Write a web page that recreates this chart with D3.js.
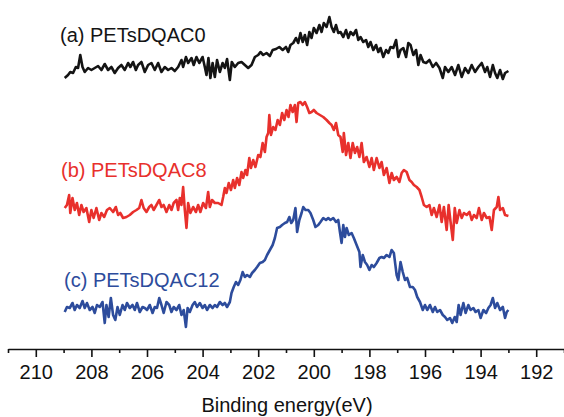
<!DOCTYPE html>
<html><head><meta charset="utf-8">
<script src="https://cdn.jsdelivr.net/npm/d3@7"></script>
<style>body{margin:0;background:#fff}svg{display:block}</style>
</head><body><svg id="c" width="564" height="417"></svg>
<script>
const seriesNames = ["(a) PETsDQAC0", "(b) PETsDQAC8", "(c) PETsDQAC12"];
const xTicks = [210, 208, 206, 204, 202, 200, 198, 196, 194, 192];
const xLabel = "Binding energy(eV)";

const energyA = [208.96,208.84,208.76,208.66,208.56,208.48,208.40,208.32,208.24,208.12,208.00,207.88,207.76,207.64,207.52,207.40,207.28,207.16,207.04,206.92,206.80,206.68,206.60,206.50,206.40,206.32,206.20,206.08,205.96,205.84,205.72,205.60,205.48,205.36,205.24,205.12,205.00,204.88,204.76,204.70,204.60,204.52,204.40,204.32,204.22,204.12,204.00,203.92,203.86,203.79,203.72,203.64,203.56,203.48,203.38,203.28,203.20,203.12,203.02,202.95,202.84,202.72,202.60,202.48,202.36,202.24,202.12,202.00,201.92,201.82,201.70,201.58,201.48,201.36,201.24,201.12,201.00,200.92,200.84,200.74,200.64,200.56,200.48,200.40,200.32,200.24,200.16,200.08,200.00,199.90,199.80,199.72,199.64,199.54,199.44,199.36,199.28,199.20,199.12,199.04,198.94,198.84,198.76,198.68,198.58,198.48,198.40,198.32,198.22,198.12,198.04,197.96,197.86,197.76,197.68,197.60,197.50,197.40,197.32,197.24,197.14,197.04,196.96,196.88,196.78,196.68,196.60,196.52,196.42,196.32,196.24,196.16,196.06,195.96,195.84,195.72,195.60,195.48,195.36,195.28,195.16,195.04,194.92,194.80,194.68,194.56,194.44,194.32,194.20,194.08,193.96,193.84,193.76,193.66,193.56,193.48,193.40,193.30,193.20,193.12,193.00];
const intensityA = [267,270,273,272,278,277,290,278,273,277,275,277,279,275,281,275,278,272,277,280,275,282,278,283,275,280,283,273,280,282,275,282,273,278,275,277,274,278,285,278,288,282,287,280,288,282,288,278,270,287,267,282,268,285,273,282,277,286,265,283,278,282,283,280,277,280,288,290,293,290,292,289,295,296,298,295,298,293,300,302,307,302,312,303,310,300,313,307,317,312,320,313,322,318,328,318,313,320,312,313,308,315,307,313,310,315,305,308,303,305,298,303,295,300,293,297,288,295,292,298,297,305,288,295,297,288,302,300,290,295,280,290,283,282,285,278,282,277,267,278,273,278,270,280,268,277,272,280,273,278,282,273,278,268,280,272,267,275,266,272,274];

const energyB = [208.96,208.88,208.80,208.76,208.68,208.60,208.52,208.44,208.36,208.28,208.18,208.08,208.00,207.92,207.82,207.72,207.64,207.54,207.44,207.34,207.22,207.12,207.04,206.96,206.86,206.74,206.62,206.50,206.38,206.28,206.20,206.12,206.02,205.92,205.84,205.76,205.66,205.56,205.48,205.40,205.30,205.20,205.12,205.04,204.94,204.88,204.82,204.76,204.70,204.64,204.58,204.52,204.44,204.34,204.24,204.16,204.08,203.98,203.88,203.80,203.74,203.66,203.56,203.44,203.32,203.26,203.20,203.14,203.06,202.98,202.90,202.84,202.76,202.68,202.60,202.54,202.46,202.40,202.32,202.26,202.18,202.10,202.00,201.92,201.84,201.76,201.70,201.64,201.60,201.54,201.46,201.38,201.30,201.22,201.14,201.06,200.98,200.91,200.84,200.76,200.68,200.62,200.56,200.48,200.40,200.32,200.24,200.16,200.08,200.00,199.90,199.78,199.66,199.54,199.44,199.36,199.28,199.20,199.12,199.04,198.96,198.92,198.84,198.76,198.68,198.60,198.52,198.44,198.36,198.28,198.20,198.10,198.00,197.92,197.84,197.74,197.64,197.56,197.48,197.38,197.28,197.20,197.12,197.02,196.92,196.84,196.76,196.66,196.56,196.48,196.40,196.30,196.20,196.12,196.04,195.94,195.84,195.76,195.68,195.58,195.48,195.40,195.32,195.22,195.15,195.08,195.00,194.93,194.86,194.76,194.68,194.60,194.50,194.40,194.32,194.24,194.14,194.06,193.96,193.88,193.78,193.68,193.60,193.52,193.42,193.36,193.30,193.20,193.12,193.00];
const intensityB = [137,140,150,132,147,135,142,130,140,133,137,123,135,127,137,125,132,128,135,137,133,138,130,132,127,128,130,133,135,137,145,137,133,138,140,135,140,145,138,140,133,140,135,142,145,135,147,140,158,135,117,142,132,138,133,140,133,142,137,153,138,145,142,142,140,148,157,152,162,155,165,157,167,160,173,167,175,170,187,177,185,178,190,188,202,193,208,212,230,210,218,215,225,220,232,225,235,228,240,233,240,223,242,243,240,243,238,232,233,235,232,230,228,225,222,220,215,222,210,208,193,212,190,202,187,202,192,198,188,202,183,188,178,187,175,187,177,183,170,177,162,172,165,168,163,172,175,173,165,163,160,158,155,148,140,138,140,130,137,128,140,123,138,115,140,123,105,137,122,135,127,132,130,133,125,130,127,137,125,132,127,128,115,135,138,148,135,137,130,129];

const energyC = [208.96,208.88,208.78,208.68,208.60,208.52,208.42,208.32,208.24,208.16,208.06,207.96,207.88,207.80,207.70,207.60,207.52,207.46,207.38,207.30,207.22,207.14,207.06,206.98,206.88,206.80,206.72,206.62,206.52,206.44,206.36,206.26,206.16,206.08,206.00,205.90,205.80,205.72,205.64,205.56,205.48,205.40,205.30,205.20,205.12,205.04,204.94,204.84,204.76,204.68,204.60,204.54,204.46,204.36,204.28,204.20,204.10,204.00,203.92,203.84,203.74,203.64,203.56,203.48,203.38,203.28,203.20,203.12,203.02,202.96,202.88,202.80,202.72,202.64,202.56,202.48,202.40,202.30,202.22,202.12,202.04,201.94,201.84,201.76,201.68,201.58,201.48,201.40,201.32,201.22,201.14,201.04,200.96,200.88,200.81,200.74,200.66,200.60,200.52,200.44,200.38,200.30,200.20,200.12,200.02,199.94,199.84,199.76,199.66,199.56,199.48,199.40,199.30,199.20,199.12,199.06,199.00,198.94,198.88,198.82,198.74,198.64,198.56,198.46,198.36,198.32,198.24,198.16,198.08,198.00,197.92,197.84,197.74,197.64,197.56,197.48,197.38,197.28,197.20,197.12,197.02,196.96,196.88,196.80,196.72,196.64,196.54,196.44,196.36,196.28,196.18,196.08,196.00,195.92,195.82,195.72,195.64,195.56,195.46,195.36,195.28,195.20,195.10,195.02,194.93,194.86,194.79,194.72,194.62,194.54,194.44,194.36,194.26,194.18,194.08,194.00,193.90,193.80,193.72,193.64,193.56,193.48,193.40,193.30,193.20,193.12,193.06,193.00];
const intensityC = [33,38,37,42,35,40,37,44,37,42,35,38,32,40,38,43,22,40,28,47,30,25,38,30,40,35,42,37,40,35,42,33,38,37,35,40,32,38,37,47,40,32,43,40,33,38,35,40,30,35,18,37,33,40,43,38,42,37,40,35,40,37,40,38,43,40,42,38,43,52,58,63,60,65,73,68,70,68,72,75,78,82,83,85,90,95,100,107,117,118,120,122,123,128,122,125,137,113,125,132,138,135,135,132,125,118,120,123,127,125,127,125,127,123,125,113,102,120,108,117,110,112,107,100,93,78,90,83,80,75,80,78,82,87,88,87,90,88,95,92,70,65,83,73,65,67,58,58,55,48,43,35,40,35,40,33,38,33,35,30,28,25,27,22,28,23,40,30,42,32,40,35,37,33,35,27,35,32,37,40,47,37,42,35,38,27,33,35];

const colors = ["#141414", "#e8302c", "#2d4c9c"];
const labelPos = [[60, 42], [61, 177], [64, 287]];

const svg = d3.select("#c");
const x = d3.scaleLinear().domain([211, 191]).range([8, 564]);
const y = d3.scaleLinear().domain([0, 345]).range([345, 0]);

const series = [
  energyA.map((e, i) => [e, intensityA[i]]),
  energyB.map((e, i) => [e, intensityB[i]]),
  energyC.map((e, i) => [e, intensityC[i]])
];

const font = "'Liberation Sans', Arial, sans-serif";
const line = d3.line().x(d => x(d[0])).y(d => y(d[1]));
series.forEach((s, i) => {
  svg.append("path").datum(s).attr("d", line)
    .attr("fill", "none").attr("stroke", colors[i])
    .attr("stroke-width", 2.6).attr("stroke-linejoin", "round");
  svg.append("text").attr("x", labelPos[i][0]).attr("y", labelPos[i][1])
    .attr("fill", colors[i]).attr("font-family", font)
    .attr("font-size", 20).text(seriesNames[i]);
});

const axisY = 349;
const minorTicks = d3.range(211, 190, -2);
const gMinor = svg.append("g").attr("transform", `translate(0,${axisY})`)
  .call(d3.axisBottom(x).tickValues(minorTicks).tickSize(4).tickFormat(""));
gMinor.select(".domain").remove();
gMinor.selectAll("line").attr("stroke", "#111").attr("stroke-width", 1.6);

const gAxis = svg.append("g").attr("transform", `translate(0,${axisY})`)
  .call(d3.axisBottom(x).tickValues(xTicks).tickSize(8).tickPadding(8).tickSizeOuter(0).tickFormat(d3.format("d")));
gAxis.select(".domain").attr("stroke", "#111").attr("stroke-width", 1.6);
gAxis.selectAll("line").attr("stroke", "#111").attr("stroke-width", 1.6);
gAxis.selectAll("text").attr("font-family", font)
  .attr("font-size", 20).attr("fill", "#111");

svg.append("text").attr("x", 287).attr("y", 412).attr("text-anchor", "middle")
  .attr("font-family", font).attr("font-size", 20)
  .attr("fill", "#111").text(xLabel);
</script></body></html>
